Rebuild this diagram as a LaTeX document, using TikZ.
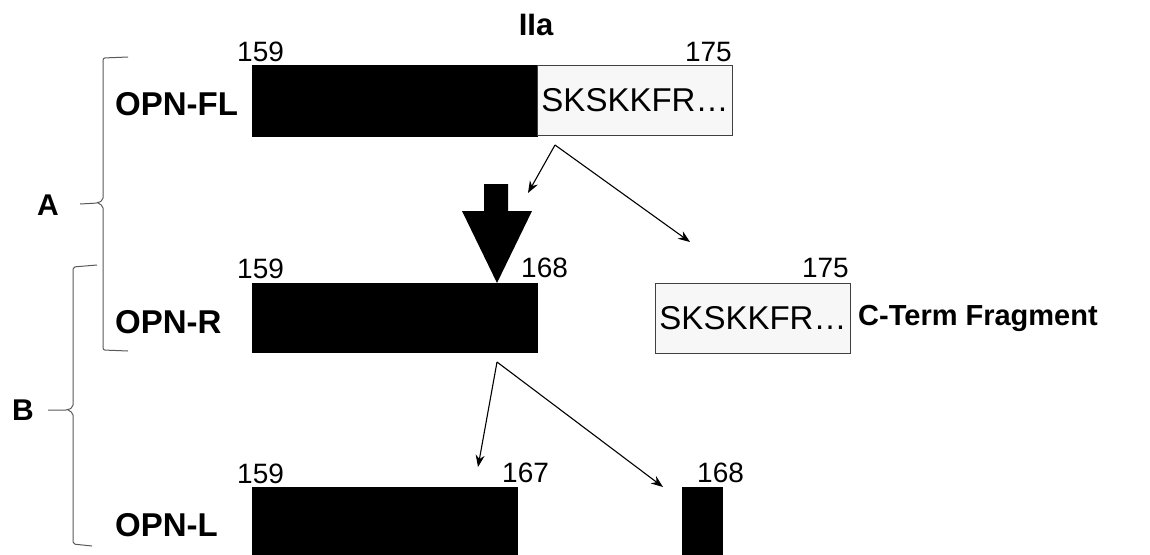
\documentclass[tikz,border=0pt]{standalone}
\usepackage{fontspec}
\setmainfont{Liberation Sans}
\usetikzlibrary{arrows.meta, positioning}

\begin{document}
\begin{tikzpicture}[x=1pt, y=-1pt,
    seg/.style={fill=black, draw=black, inner sep=0, anchor=north west},
    tail/.style={fill=gray!6, draw=black!75, line width=1pt, inner sep=0, anchor=north west,
        minimum width=195pt, minimum height=70pt, font=\fontsize{33}{36}\selectfont},
    resnum/.style={inner sep=0, font=\fontsize{28}{30}\selectfont},
    protlabel/.style={inner sep=0, anchor=west, font=\bfseries\fontsize{33}{36}\selectfont},
    cut/.style={-{Stealth[length=12pt, width=9pt]}, line width=1.1pt},
    brace/.style={draw=black!65, line width=1pt, rounded corners=2pt}]

    \useasboundingbox (0,0) rectangle (1150,554);

    % Protease
    \node[font=\bfseries\fontsize{31}{36}\selectfont] (thr) at (536,25) {IIa};

    % Full length
    \node[protlabel] (flName) at (115,104) {OPN-FL};
    \node[seg, minimum width=285pt, minimum height=71pt] (flCore) at (252,65) {};
    \node[tail] (flTail) at (537,65) {SKSKKFR\ldots};
    \node[resnum, anchor=base west] (flStart) at (237,61) {159};
    \node[resnum, anchor=base east] (flEnd) at (732,61) {175};

    % First cut
    \coordinate (cutFL) at (555,145);
    \coordinate (toR) at (528,193);
    \coordinate (toFrag) at (690,242);
    \draw[cut] (cutFL) -- (toR);
    \draw[cut] (cutFL) -- (toFrag);
    \fill (484,184) -- (508,184) -- (508,211) -- (532,211) -- (497,283)
        -- (462,211) -- (484,211) -- cycle;

    % Cleaved form
    \node[protlabel] (rName) at (115,322) {OPN-R};
    \node[seg, minimum width=285pt, minimum height=69pt] (rCore) at (252,283) {};
    \node[resnum, anchor=base west] (rStart) at (237,278) {159};
    \node[resnum, anchor=base west] (rEnd) at (521,277) {168};

    % Released fragment
    \node[tail] (frag) at (655,283) {SKSKKFR\ldots};
    \node[resnum, anchor=base east] (fragEnd) at (849,277) {175};
    \node[font=\bfseries\fontsize{29}{36}\selectfont, anchor=west, inner sep=0] (fragName)
        at (858,318) {C-Term Fragment};

    % Second cut
    \coordinate (cutR) at (497,362);
    \coordinate (toL) at (478,467);
    \coordinate (toRes) at (663,487);
    \draw[cut] (cutR) -- (toL);
    \draw[cut] (cutR) -- (toRes);

    % Shortened form
    \node[protlabel] (lName) at (115,525) {OPN-L};
    \node[seg, minimum width=265pt, minimum height=70pt] (lCore) at (252,487) {};
    \node[seg, minimum width=40pt, minimum height=70pt] (lRes) at (682,487) {};
    \node[resnum, anchor=base west] (lStart) at (237,483) {159};
    \node[resnum, anchor=base west] (lEnd) at (502,482) {167};
    \node[resnum, anchor=base west] (lResNum) at (697,482) {168};

    % Brackets
    \node[font=\bfseries\fontsize{30}{36}\selectfont] (grpA) at (48,205) {A};
    \draw[brace] (128,57) -- (103,58) -- (103,200) -- (98,203) -- (80,204);
    \draw[brace] (98,203) -- (103,206) -- (103,350) -- (128,351);
    \node[font=\bfseries\fontsize{30}{36}\selectfont] (grpB) at (23,410) {B};
    \draw[brace] (97,265) -- (73,267) -- (73,407) -- (68,410) -- (48,410);
    \draw[brace] (68,410) -- (73,413) -- (73,544) -- (92,546);
\end{tikzpicture}
\end{document}
